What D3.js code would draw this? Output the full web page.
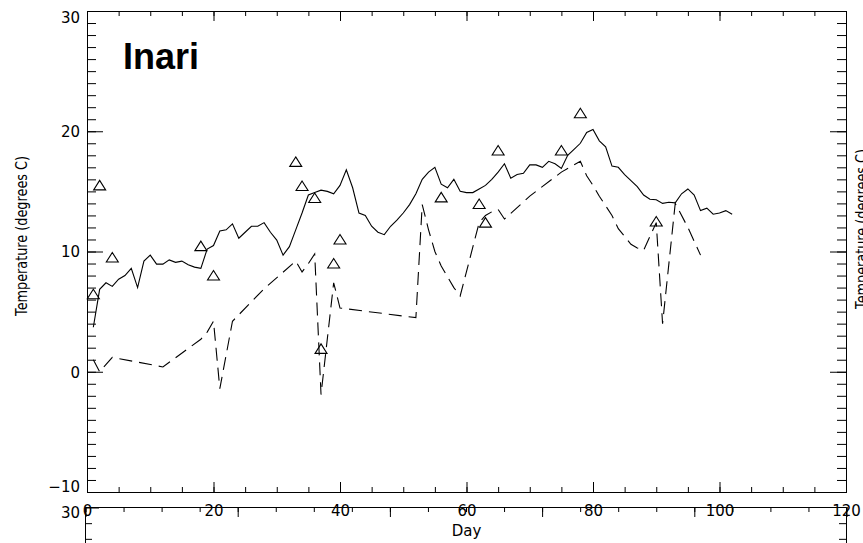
<!DOCTYPE html>
<html lang="en">
<head>
    <meta charset="UTF-8">
    <title>Inari - Temperature</title>
    <script src="https://d3js.org/d3.v7.min.js"></script>
    <style>
        body { margin: 0; background: #fff; }
        svg { display: block; }
    </style>
</head>
<body>
    <script>
        // Datos: temperatura diaria (línea continua)
        const solidDays = [
            1, 2, 3, 4, 5, 6, 7, 8, 9, 10,
            11, 12, 13, 14, 15, 16, 17, 18, 19, 20,
            21, 22, 23, 24, 25, 26, 27, 28, 29, 30,
            31, 32, 33, 34, 35, 36, 37, 38, 39, 40,
            41, 42, 43, 44, 45, 46, 47, 48, 49, 50,
            51, 52, 53, 54, 55, 56, 57, 58, 59, 60,
            61, 62, 63, 64, 65, 66, 67, 68, 69, 70,
            71, 72, 73, 74, 75, 76, 77, 78, 79, 80,
            81, 82, 83, 84, 85, 86, 87, 88, 89, 90,
            91, 92, 93, 94, 95, 96, 97, 98, 99, 100,
            101, 102
        ];
        const solidTemps = [
            3.7, 6.85, 7.4, 7.1, 7.7, 8.0, 8.6, 7.0, 9.2, 9.7,
            8.95, 8.95, 9.3, 9.1, 9.2, 8.9, 8.7, 8.6, 10.2, 10.5,
            11.7, 11.8, 12.3, 11.1, 11.6, 12.1, 12.1, 12.4, 11.6, 10.95,
            9.7, 10.4, 11.8, 13.2, 14.7, 14.9, 15.1, 15.0, 14.8, 15.5,
            16.8, 15.3, 13.2, 13.0, 12.1, 11.6, 11.4, 12.1, 12.6, 13.2,
            13.9, 14.8, 16.0, 16.6, 17.0, 15.6, 15.3, 16.0, 15.0, 14.9,
            14.9, 15.2, 15.5, 16.0, 16.6, 17.3, 16.1, 16.4, 16.5, 17.2,
            17.2, 17.0, 17.5, 17.3, 16.9, 18.0, 18.5, 19.0, 19.9, 20.15,
            19.2, 18.7, 17.1, 17.0, 16.4, 15.9, 15.4, 14.7, 14.35, 14.3,
            14.0, 14.1, 14.05, 14.8, 15.2, 14.7, 13.4, 13.6, 13.1, 13.2,
            13.4, 13.1
        ];

        // Línea discontinua
        const dashDays = [1, 2, 4, 12, 18, 19, 20, 21, 23, 28, 33, 34, 35, 36, 37, 39, 40, 52, 53, 54,
            55, 56, 58, 59, 62, 63, 64, 65, 66, 70, 75, 77, 78, 79, 80, 81, 83, 84, 86, 87,
            88, 90, 91, 93, 95, 97];
        const dashTemps = [1.0, 0.0, 1.2, 0.4, 2.7, 3.3, 4.2, -1.4, 4.2, 6.9, 9.2, 8.3, 9.0, 9.8, -1.9, 7.4, 5.3, 4.5, 13.9, 11.8,
            10.0, 8.8, 7.0, 6.3, 12.4, 13.0, 13.3, 13.5, 12.7, 14.6, 16.6, 17.2, 17.5, 16.3, 15.5, 14.6, 13.0, 11.9, 10.6, 10.3,
            10.1, 12.4, 4.0, 14.0, 12.0, 9.7];

        // Observaciones (triángulos)
        const obsDays = [1, 2, 4, 18, 20, 33, 34, 36, 37, 39, 40, 56, 62, 63, 65, 75, 78, 90];
        const obsTemps = [6.45, 15.5, 9.5, 10.45, 8.0, 17.45, 15.45, 14.45, 1.9, 9.0, 11.0, 14.5, 13.95, 12.4, 18.4, 18.4, 21.5, 12.5];

        // Ejes
        const xMajor = [0, 20, 40, 60, 80, 100, 120];
        const yMajor = [-10, 0, 10, 20, 30];

        const width = 863, height = 543;
        const plotLeft = 87, plotRight = 846, plotTop = 11, plotBottom = 492;
        const font = '"DejaVu Sans", sans-serif';

        const svg = d3.select('body').append('svg')
            .attr('width', width).attr('height', height);

        const x = d3.scaleLinear().domain([0, 120]).range([plotLeft, plotRight]);
        const y = d3.scaleLinear().domain([-10, 30]).range([plotBottom, plotTop]);

        const xMinor = d3.range(0, 121, 5);
        const yMinor = d3.range(-10, 31, 1);

        function cleanAxis(g) {
            g.select('.domain').remove();
            g.selectAll('line').attr('stroke', '#000');
        }

        // eje inferior
        svg.append('g').attr('transform', `translate(0,${plotBottom})`)
            .call(d3.axisBottom(x).tickValues(xMinor).tickSize(-5).tickFormat(''))
            .call(cleanAxis);
        svg.append('g').attr('transform', `translate(0,${plotBottom})`)
            .call(d3.axisBottom(x).tickValues(xMajor).tickSize(-10).tickPadding(13).tickFormat(d3.format('d')))
            .call(cleanAxis)
            .call(g => g.selectAll('text').attr('font-family', font).attr('font-size', 15).attr('fill', '#000'));

        // eje superior
        svg.append('g').attr('transform', `translate(0,${plotTop})`)
            .call(d3.axisTop(x).tickValues(xMinor).tickSize(-5).tickFormat(''))
            .call(cleanAxis);
        svg.append('g').attr('transform', `translate(0,${plotTop})`)
            .call(d3.axisTop(x).tickValues(xMajor).tickSize(-10).tickFormat(''))
            .call(cleanAxis);

        // eje izquierdo
        svg.append('g').attr('transform', `translate(${plotLeft},0)`)
            .call(d3.axisLeft(y).tickValues(yMinor).tickSize(-9).tickFormat(''))
            .call(cleanAxis);
        svg.append('g').attr('transform', `translate(${plotLeft},0)`)
            .call(d3.axisLeft(y).tickValues(yMajor).tickSize(-16).tickPadding(7))
            .call(cleanAxis)
            .call(g => g.selectAll('text')
                .attr('font-family', font).attr('font-size', 15).attr('fill', '#000')
                .attr('dy', d => d === 30 ? '0.75em' : d === -10 ? '-0.05em' : '0.35em'));

        // eje derecho
        svg.append('g').attr('transform', `translate(${plotRight},0)`)
            .call(d3.axisRight(y).tickValues(yMinor).tickSize(-9).tickFormat(''))
            .call(cleanAxis);
        svg.append('g').attr('transform', `translate(${plotRight},0)`)
            .call(d3.axisRight(y).tickValues(yMajor).tickSize(-16).tickFormat(''))
            .call(cleanAxis);

        // marco
        svg.append('rect')
            .attr('x', plotLeft + 0.5).attr('y', plotTop + 0.5)
            .attr('width', plotRight - plotLeft).attr('height', plotBottom - plotTop)
            .attr('fill', 'none').attr('stroke', '#000');

        // títulos
        svg.append('text')
            .attr('x', (plotLeft + plotRight) / 2).attr('y', 536)
            .attr('text-anchor', 'middle')
            .attr('font-family', font).attr('font-size', 15)
            .text('Day');

        svg.append('text')
            .attr('transform', 'translate(27,236) rotate(-90)')
            .attr('text-anchor', 'middle')
            .attr('font-family', font).attr('font-size', 15)
            .attr('textLength', 160).attr('lengthAdjust', 'spacingAndGlyphs')
            .text('Temperature (degrees C)');

        // título del panel vecino (cortado en el borde, como en el original)
        svg.append('text')
            .attr('transform', 'translate(867,229) rotate(-90)')
            .attr('text-anchor', 'middle')
            .attr('font-family', font).attr('font-size', 15)
            .attr('textLength', 160).attr('lengthAdjust', 'spacingAndGlyphs')
            .text('Temperature (degrees C)');

        svg.append('text')
            .attr('x', 123).attr('y', 69)
            .attr('font-family', '"Liberation Sans", Arial, sans-serif')
            .attr('font-size', 36).attr('font-weight', 'bold')
            .text('Inari');

        // líneas
        const line = d3.line().x(d => x(d[0])).y(d => y(d[1]));

        svg.append('path')
            .datum(d3.zip(solidDays, solidTemps))
            .attr('d', line)
            .attr('fill', 'none').attr('stroke', '#000').attr('stroke-width', 1.1);

        svg.append('path')
            .datum(d3.zip(dashDays, dashTemps))
            .attr('d', line)
            .attr('fill', 'none').attr('stroke', '#000').attr('stroke-width', 1.1)
            .attr('stroke-dasharray', '13,7');

        svg.selectAll('.obs')
            .data(d3.zip(obsDays, obsTemps))
            .join('path')
            .attr('class', 'obs')
            .attr('transform', d => `translate(${x(d[0])},${y(d[1])})`)
            .attr('d', 'M0,-5L6,4.5L-6,4.5Z')
            .attr('fill', 'none').attr('stroke', '#000').attr('stroke-width', 1.1);

        // panel inferior (solo se ve el borde superior)
        const x2 = d3.scaleLinear().domain([0, 100]).range([85.5, 846.5]);
        const y2 = d3.scaleLinear().domain([27, 30]).range([554.5, 507.5]);
        const lower = svg.append('g');
        lower.append('g').attr('transform', 'translate(0,507)')
            .call(d3.axisBottom(x2).tickValues(d3.range(0, 101, 5)).tickSize(5).tickFormat(''))
            .call(cleanAxis);
        lower.append('g').attr('transform', 'translate(0,507)')
            .call(d3.axisBottom(x2).tickValues(d3.range(0, 101, 20)).tickSize(10).tickFormat(''))
            .call(cleanAxis);
        lower.append('g').attr('transform', 'translate(85,0)')
            .call(d3.axisLeft(y2).tickValues([28, 29]).tickSize(-7).tickFormat(''))
            .call(cleanAxis);
        lower.append('g').attr('transform', 'translate(85,0)')
            .call(d3.axisLeft(y2).tickValues([30]).tickSize(-14).tickPadding(5).tickFormat(d3.format('d')))
            .call(cleanAxis)
            .call(g => g.selectAll('text').attr('font-family', font).attr('font-size', 15)
                .attr('fill', '#000').attr('dy', '0.65em'));
        lower.append('g').attr('transform', 'translate(846,0)')
            .call(d3.axisRight(y2).tickValues([28, 29]).tickSize(-7).tickFormat(''))
            .call(cleanAxis);
        lower.append('path')
            .attr('d', 'M85.5,543V507.5H846.5V543')
            .attr('fill', 'none').attr('stroke', '#000');
    </script>
</body>
</html>
